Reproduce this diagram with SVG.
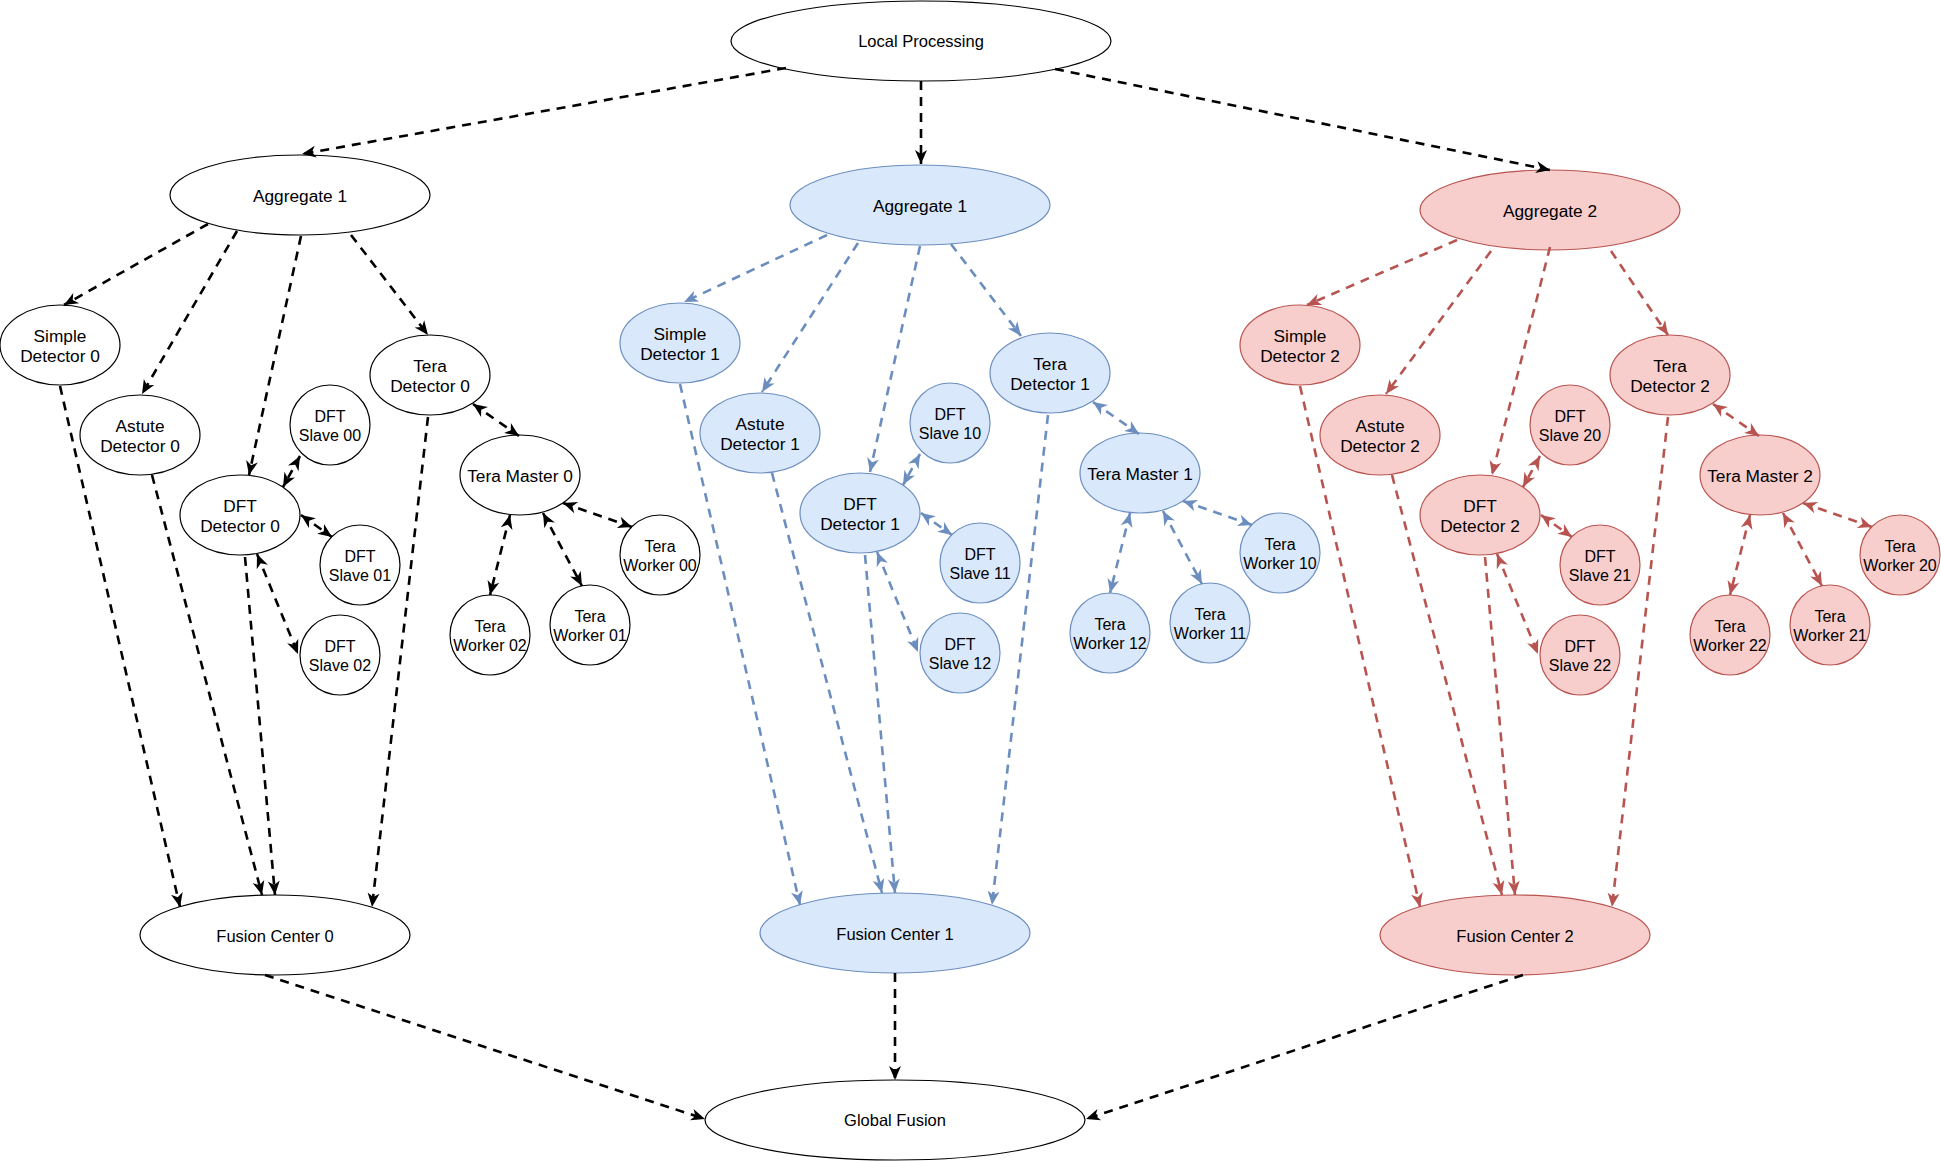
<svg xmlns="http://www.w3.org/2000/svg" width="1941" height="1161" viewBox="0 0 1941 1161">
<defs>
<style>
text{font-family:"Liberation Sans",Arial,sans-serif;fill:#000;text-anchor:middle}
.t17{font-size:17.3px}
.t16{font-size:16px}
.t165{font-size:16.5px}
.nk{fill:#fff;stroke:#000;stroke-width:1.2}
.nb{fill:#dae8fc;stroke:#6c8ebf;stroke-width:1.2}
.nr{fill:#f8cecc;stroke:#b85450;stroke-width:1.2}
.e{fill:none;stroke-width:2.6;stroke-dasharray:9 7}
.ek{stroke:#000;marker-end:url(#arrK)}
.eb{stroke:#6c8ebf;marker-end:url(#arrB)}
.er{stroke:#b85450;marker-end:url(#arrR)}
.bk{marker-start:url(#arrK)}
.bb{marker-start:url(#arrB)}
.br{marker-start:url(#arrR)}
</style>
<marker id="arrK" markerUnits="userSpaceOnUse" markerWidth="16" markerHeight="14" viewBox="0 0 16 14" refX="15" refY="7" orient="auto-start-reverse"><path d="M15,7 L1,1 L5,7 L1,13 Z" fill="#000"/></marker>
<marker id="arrB" markerUnits="userSpaceOnUse" markerWidth="16" markerHeight="14" viewBox="0 0 16 14" refX="15" refY="7" orient="auto-start-reverse"><path d="M15,7 L1,1 L5,7 L1,13 Z" fill="#6c8ebf"/></marker>
<marker id="arrR" markerUnits="userSpaceOnUse" markerWidth="16" markerHeight="14" viewBox="0 0 16 14" refX="15" refY="7" orient="auto-start-reverse"><path d="M15,7 L1,1 L5,7 L1,13 Z" fill="#b85450"/></marker>
</defs>
<rect width="1941" height="1161" fill="#fff"/>

<!-- top / bottom -->
<g id="local-processing"><ellipse class="nk" cx="921" cy="41" rx="190" ry="40"/><text class="t165" x="921" y="47">Local Processing</text></g>
<g id="global-fusion"><ellipse class="nk" cx="895" cy="1120" rx="190" ry="40"/><text class="t165" x="895" y="1126">Global Fusion</text></g>

<!-- cluster 0 (black) -->
<g id="aggregate-0"><ellipse class="nk" cx="300" cy="195" rx="130" ry="40"/><text class="t17" x="300" y="202">Aggregate 1</text></g>
<g id="simple-detector-0"><ellipse class="nk" cx="60" cy="345" rx="60" ry="40"/><text class="t17" x="60" y="341.5">Simple</text><text class="t17" x="60" y="362.3">Detector 0</text></g>
<g id="astute-detector-0"><ellipse class="nk" cx="140" cy="435" rx="60" ry="40"/><text class="t17" x="140" y="431.5">Astute</text><text class="t17" x="140" y="452.3">Detector 0</text></g>
<g id="dft-detector-0"><ellipse class="nk" cx="240" cy="515" rx="60" ry="40"/><text class="t17" x="240" y="511.5">DFT</text><text class="t17" x="240" y="532.3">Detector 0</text></g>
<g id="dft-slave-00"><circle class="nk" cx="330" cy="425" r="40"/><text class="t16" x="330" y="421.7">DFT</text><text class="t16" x="330" y="440.7">Slave 00</text></g>
<g id="dft-slave-01"><circle class="nk" cx="360" cy="565" r="40"/><text class="t16" x="360" y="561.7">DFT</text><text class="t16" x="360" y="580.7">Slave 01</text></g>
<g id="dft-slave-02"><circle class="nk" cx="340" cy="655" r="40"/><text class="t16" x="340" y="651.7">DFT</text><text class="t16" x="340" y="670.7">Slave 02</text></g>
<g id="tera-detector-0"><ellipse class="nk" cx="430" cy="375" rx="60" ry="40"/><text class="t17" x="430" y="371.5">Tera</text><text class="t17" x="430" y="392.3">Detector 0</text></g>
<g id="tera-master-0"><ellipse class="nk" cx="520" cy="475" rx="60" ry="40"/><text class="t17" x="520" y="481.5">Tera Master 0</text></g>
<g id="tera-worker-00"><circle class="nk" cx="660" cy="555" r="40"/><text class="t16" x="660" y="551.7">Tera</text><text class="t16" x="660" y="570.7">Worker 00</text></g>
<g id="tera-worker-01"><circle class="nk" cx="590" cy="625" r="40"/><text class="t16" x="590" y="621.7">Tera</text><text class="t16" x="590" y="640.7">Worker 01</text></g>
<g id="tera-worker-02"><circle class="nk" cx="490" cy="635" r="40"/><text class="t16" x="490" y="631.7">Tera</text><text class="t16" x="490" y="650.7">Worker 02</text></g>
<g id="fusion-center-0"><ellipse class="nk" cx="275" cy="935" rx="135" ry="40"/><text class="t165" x="275" y="941.5">Fusion Center 0</text></g>

<!-- cluster 1 (blue) -->
<g id="aggregate-1"><ellipse class="nb" cx="920" cy="205" rx="130" ry="40"/><text class="t17" x="920" y="212">Aggregate 1</text></g>
<g id="simple-detector-1"><ellipse class="nb" cx="680" cy="343" rx="60" ry="40"/><text class="t17" x="680" y="339.5">Simple</text><text class="t17" x="680" y="360.3">Detector 1</text></g>
<g id="astute-detector-1"><ellipse class="nb" cx="760" cy="433" rx="60" ry="40"/><text class="t17" x="760" y="429.5">Astute</text><text class="t17" x="760" y="450.3">Detector 1</text></g>
<g id="dft-detector-1"><ellipse class="nb" cx="860" cy="513" rx="60" ry="40"/><text class="t17" x="860" y="509.5">DFT</text><text class="t17" x="860" y="530.3">Detector 1</text></g>
<g id="dft-slave-10"><circle class="nb" cx="950" cy="423" r="40"/><text class="t16" x="950" y="419.7">DFT</text><text class="t16" x="950" y="438.7">Slave 10</text></g>
<g id="dft-slave-11"><circle class="nb" cx="980" cy="563" r="40"/><text class="t16" x="980" y="559.7">DFT</text><text class="t16" x="980" y="578.7">Slave 11</text></g>
<g id="dft-slave-12"><circle class="nb" cx="960" cy="653" r="40"/><text class="t16" x="960" y="649.7">DFT</text><text class="t16" x="960" y="668.7">Slave 12</text></g>
<g id="tera-detector-1"><ellipse class="nb" cx="1050" cy="373" rx="60" ry="40"/><text class="t17" x="1050" y="369.5">Tera</text><text class="t17" x="1050" y="390.3">Detector 1</text></g>
<g id="tera-master-1"><ellipse class="nb" cx="1140" cy="473" rx="60" ry="40"/><text class="t17" x="1140" y="479.5">Tera Master 1</text></g>
<g id="tera-worker-10"><circle class="nb" cx="1280" cy="553" r="40"/><text class="t16" x="1280" y="549.7">Tera</text><text class="t16" x="1280" y="568.7">Worker 10</text></g>
<g id="tera-worker-11"><circle class="nb" cx="1210" cy="623" r="40"/><text class="t16" x="1210" y="619.7">Tera</text><text class="t16" x="1210" y="638.7">Worker 11</text></g>
<g id="tera-worker-12"><circle class="nb" cx="1110" cy="633" r="40"/><text class="t16" x="1110" y="629.7">Tera</text><text class="t16" x="1110" y="648.7">Worker 12</text></g>
<g id="fusion-center-1"><ellipse class="nb" cx="895" cy="933" rx="135" ry="40"/><text class="t165" x="895" y="939.5">Fusion Center 1</text></g>

<!-- cluster 2 (red) -->
<g id="aggregate-2"><ellipse class="nr" cx="1550" cy="210" rx="130" ry="40"/><text class="t17" x="1550" y="217">Aggregate 2</text></g>
<g id="simple-detector-2"><ellipse class="nr" cx="1300" cy="345" rx="60" ry="40"/><text class="t17" x="1300" y="341.5">Simple</text><text class="t17" x="1300" y="362.3">Detector 2</text></g>
<g id="astute-detector-2"><ellipse class="nr" cx="1380" cy="435" rx="60" ry="40"/><text class="t17" x="1380" y="431.5">Astute</text><text class="t17" x="1380" y="452.3">Detector 2</text></g>
<g id="dft-detector-2"><ellipse class="nr" cx="1480" cy="515" rx="60" ry="40"/><text class="t17" x="1480" y="511.5">DFT</text><text class="t17" x="1480" y="532.3">Detector 2</text></g>
<g id="dft-slave-20"><circle class="nr" cx="1570" cy="425" r="40"/><text class="t16" x="1570" y="421.7">DFT</text><text class="t16" x="1570" y="440.7">Slave 20</text></g>
<g id="dft-slave-21"><circle class="nr" cx="1600" cy="565" r="40"/><text class="t16" x="1600" y="561.7">DFT</text><text class="t16" x="1600" y="580.7">Slave 21</text></g>
<g id="dft-slave-22"><circle class="nr" cx="1580" cy="655" r="40"/><text class="t16" x="1580" y="651.7">DFT</text><text class="t16" x="1580" y="670.7">Slave 22</text></g>
<g id="tera-detector-2"><ellipse class="nr" cx="1670" cy="375" rx="60" ry="40"/><text class="t17" x="1670" y="371.5">Tera</text><text class="t17" x="1670" y="392.3">Detector 2</text></g>
<g id="tera-master-2"><ellipse class="nr" cx="1760" cy="475" rx="60" ry="40"/><text class="t17" x="1760" y="481.5">Tera Master 2</text></g>
<g id="tera-worker-20"><circle class="nr" cx="1900" cy="555" r="40"/><text class="t16" x="1900" y="551.7">Tera</text><text class="t16" x="1900" y="570.7">Worker 20</text></g>
<g id="tera-worker-21"><circle class="nr" cx="1830" cy="625" r="40"/><text class="t16" x="1830" y="621.7">Tera</text><text class="t16" x="1830" y="640.7">Worker 21</text></g>
<g id="tera-worker-22"><circle class="nr" cx="1730" cy="635" r="40"/><text class="t16" x="1730" y="631.7">Tera</text><text class="t16" x="1730" y="650.7">Worker 22</text></g>
<g id="fusion-center-2"><ellipse class="nr" cx="1515" cy="935" rx="135" ry="40"/><text class="t165" x="1515" y="941.5">Fusion Center 2</text></g>

<g id="connectors">
<!-- top -->
<path class="e ek" d="M786,68 L302,154"/>
<path class="e ek" d="M921,81 L921,164"/>
<path class="e ek" d="M1055,69 L1550,170"/>
<!-- cluster 0 -->
<path class="e ek" d="M208,224 L64,305"/>
<path class="e ek" d="M237,231 L142,394"/>
<path class="e ek" d="M301,236 L249,475"/>
<path class="e ek" d="M351,235 L428,335"/>
<path class="e ek bk" d="M300,456 L283,487"/>
<path class="e ek bk" d="M301,515 L332,537"/>
<path class="e ek bk" d="M257,554 L298,654"/>
<path class="e ek bk" d="M473,404 L519,436"/>
<path class="e ek bk" d="M563,503 L632,527"/>
<path class="e ek bk" d="M543,513 L582,586"/>
<path class="e ek bk" d="M510,515 L490,595"/>
<path class="e ek" d="M60,386 L180,907"/>
<path class="e ek" d="M152,475 L262,895"/>
<path class="e ek" d="M245,557 L275,895"/>
<path class="e ek" d="M428,417 L372,907"/>
<!-- cluster 1 -->
<path class="e eb" d="M827,235 L684,302"/>
<path class="e eb" d="M858,243 L762,392"/>
<path class="e eb" d="M920,246 L870,472"/>
<path class="e eb" d="M951,244 L1021,336"/>
<path class="e eb bb" d="M920,454 L903,485"/>
<path class="e eb bb" d="M921,513 L952,535"/>
<path class="e eb bb" d="M877,552 L918,652"/>
<path class="e eb bb" d="M1093,402 L1139,434"/>
<path class="e eb bb" d="M1183,501 L1252,525"/>
<path class="e eb bb" d="M1163,511 L1202,584"/>
<path class="e eb bb" d="M1130,513 L1110,593"/>
<path class="e eb" d="M680,384 L800,905"/>
<path class="e eb" d="M772,473 L882,893"/>
<path class="e eb" d="M865,555 L895,893"/>
<path class="e eb" d="M1048,415 L992,905"/>
<!-- cluster 2 -->
<path class="e er" d="M1457,240 L1307,305"/>
<path class="e er" d="M1491,251 L1386,394"/>
<path class="e er" d="M1550,247 L1492,475"/>
<path class="e er" d="M1611,251 L1668,335"/>
<path class="e er br" d="M1540,456 L1523,487"/>
<path class="e er br" d="M1541,515 L1572,537"/>
<path class="e er br" d="M1497,554 L1538,654"/>
<path class="e er br" d="M1713,404 L1759,436"/>
<path class="e er br" d="M1803,503 L1872,527"/>
<path class="e er br" d="M1783,513 L1822,586"/>
<path class="e er br" d="M1750,515 L1730,595"/>
<path class="e er" d="M1300,386 L1420,907"/>
<path class="e er" d="M1392,475 L1502,895"/>
<path class="e er" d="M1485,557 L1515,895"/>
<path class="e er" d="M1668,417 L1612,907"/>
<!-- bottom -->
<path class="e ek" d="M265,975 L705,1119"/>
<path class="e ek" d="M895,973 L895,1080"/>
<path class="e ek" d="M1523,975 L1086,1119"/>
</g>
</svg>
